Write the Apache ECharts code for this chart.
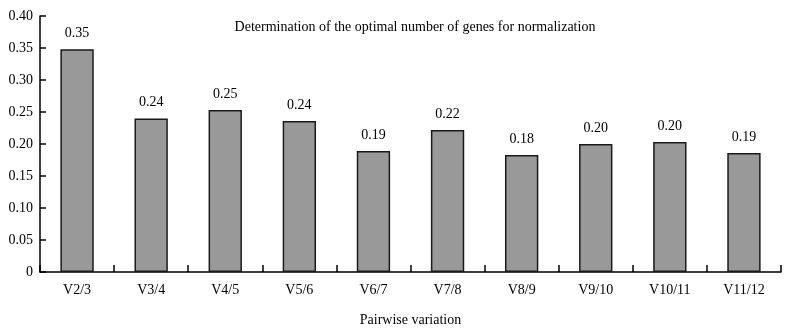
<!DOCTYPE html>
<html>
<head>
<meta charset="utf-8">
<script src="https://cdn.jsdelivr.net/npm/echarts@6/dist/echarts.min.js"></script>
<style>
  html, body { margin: 0; padding: 0; background: #fff; }
  #chart { width: 788px; height: 332px; }
</style>
</head>
<body>
<div id="chart"></div>
<script>
// Pairwise variation (V) values for successive numbers of reference genes
const categories = ['V2/3', 'V3/4', 'V4/5', 'V5/6', 'V6/7', 'V7/8', 'V8/9', 'V9/10', 'V10/11', 'V11/12'];
const pairwiseV = [0.348, 0.240, 0.253, 0.236, 0.189, 0.222, 0.183, 0.200, 0.203, 0.186];
const yTicks = { min: 0, max: 0.40, step: 0.05 };

const serif = '"Liberation Serif", "Times New Roman", serif';
const chart = echarts.init(document.getElementById('chart'), null, { renderer: 'canvas' });

chart.setOption({
  animation: false,
  backgroundColor: '#fff',
  textStyle: { fontFamily: serif },
  title: {
    text: 'Determination of the optimal number of genes for normalization',
    left: 410,
    textAlign: 'center',
    top: 15,
    textStyle: { fontFamily: serif, fontSize: 14, fontWeight: 'normal', color: '#000' }
  },
  grid: { left: 40, right: 7, top: 16, bottom: 58, containLabel: false },
  xAxis: {
    type: 'category',
    data: categories,
    name: 'Pairwise variation',
    nameLocation: 'middle',
    nameGap: 41,
    nameTextStyle: { fontFamily: serif, fontSize: 14, color: '#000' },
    axisLine: { lineStyle: { color: '#000', width: 1.5 } },
    axisTick: { show: true, inside: true, length: 7, alignWithLabel: false, lineStyle: { color: '#000', width: 1.5 } },
    axisLabel: { fontFamily: serif, fontSize: 14, color: '#000', margin: 11 },
    splitLine: { show: false }
  },
  yAxis: {
    type: 'value',
    min: yTicks.min,
    max: yTicks.max,
    interval: yTicks.step,
    axisLine: { show: true, lineStyle: { color: '#000', width: 1.5 } },
    axisTick: { show: true, inside: true, length: 6, lineStyle: { color: '#000', width: 1.5 } },
    axisLabel: {
      fontFamily: serif, fontSize: 14, color: '#000', margin: 7,
      formatter: v => (v === 0 ? '0' : v.toFixed(2))
    },
    splitLine: { show: false }
  },
  series: [{
    type: 'bar',
    data: pairwiseV,
    barWidth: '45%',
    itemStyle: { color: '#999999', borderColor: '#1a1a1a', borderWidth: 1.5 },
    label: {
      show: true,
      position: 'top',
      distance: 9,
      fontFamily: serif,
      fontSize: 14,
      color: '#000',
      formatter: p => p.value.toFixed(2)
    }
  }]
});
</script>
</body>
</html>
